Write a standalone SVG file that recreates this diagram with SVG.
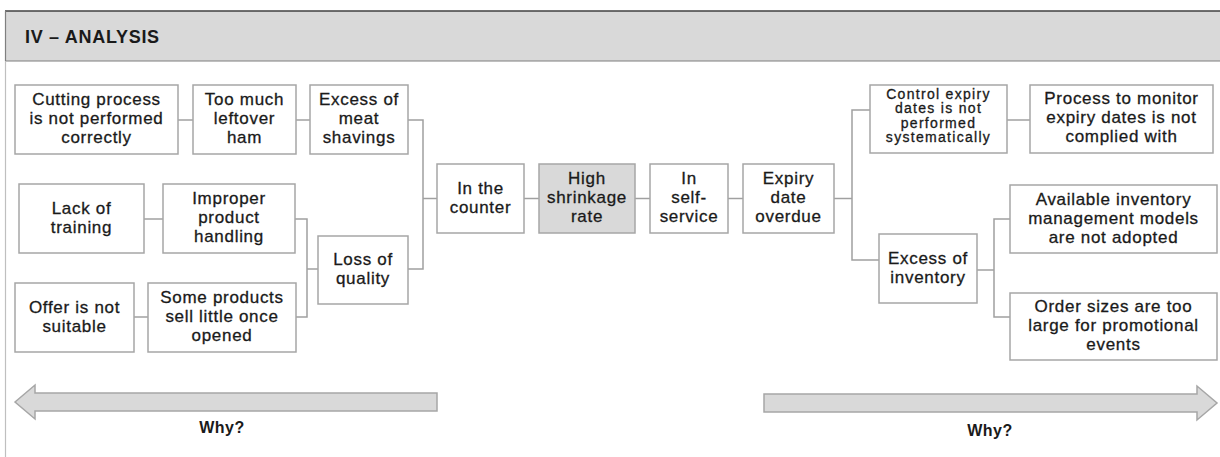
<svg xmlns="http://www.w3.org/2000/svg" width="1220" height="457" viewBox="0 0 1220 457">
<style>
.box{fill:#ffffff;stroke:#a6a6a6;stroke-width:1.5}
.hi{fill:#d9d9d9;stroke:#a6a6a6;stroke-width:1.5}
.t{font-family:"Liberation Sans",Arial,sans-serif;font-size:17px;letter-spacing:0.7px;fill:#1a1a1a;stroke:#1a1a1a;stroke-width:0.3px;text-anchor:middle}
.s{font-size:14px;letter-spacing:1.3px}
.c{fill:none;stroke:#a0a0a0;stroke-width:1.5}
.arr{fill:#d9d9d9;stroke:#a6a6a6;stroke-width:1.5}
.why{font-family:"Liberation Sans",Arial,sans-serif;font-size:16px;font-weight:bold;letter-spacing:0.5px;fill:#1a1a1a;text-anchor:middle}
</style>
<rect x="0" y="0" width="1220" height="457" fill="#ffffff"/>
<g id="header">
<rect x="5" y="11" width="1216" height="50" fill="#d9d9d9" stroke="none"/>
<line x1="5" y1="11" x2="1220" y2="11" stroke="#404040" stroke-width="1.5"/>
<line x1="5" y1="61" x2="1220" y2="61" stroke="#7f7f7f" stroke-width="1.2"/>
<line x1="5.5" y1="11" x2="5.5" y2="61" stroke="#7f7f7f" stroke-width="1.2"/>
<line x1="5.5" y1="61" x2="5.5" y2="457" stroke="#bfbfbf" stroke-width="1.2"/>
<text x="25" y="43" font-family="Liberation Sans,Arial,sans-serif" font-size="18" font-weight="bold" letter-spacing="0.7" fill="#1a1a1a">IV – ANALYSIS</text>
</g>
<g id="connectors">
<polyline class="c" points="178,120 193,120"/>
<polyline class="c" points="296,120 310,120"/>
<polyline class="c" points="408,120 423,120 423,269 408,269"/>
<polyline class="c" points="423,198.5 437,198.5"/>
<polyline class="c" points="144,219 163,219"/>
<polyline class="c" points="295,219 307,219 307,317 296,317"/>
<polyline class="c" points="307,269 318,269"/>
<polyline class="c" points="134,317 148,317"/>
<polyline class="c" points="524,198.5 539,198.5"/>
<polyline class="c" points="635,198.5 650,198.5"/>
<polyline class="c" points="728,198.5 743,198.5"/>
<polyline class="c" points="834,198.5 852,198.5"/>
<polyline class="c" points="870,110 852,110 852,260 879,260"/>
<polyline class="c" points="1007,120 1030,120"/>
<polyline class="c" points="977,270 994,270"/>
<polyline class="c" points="1010,219 994,219 994,317 1010,317"/>
</g>
<g id="n-cutting"><rect class="box" x="15" y="85" width="163" height="69"/>
<text class="t" x="96.5" y="105">Cutting process</text><text class="t" x="96.5" y="124">is not performed</text><text class="t" x="96.5" y="143">correctly</text></g>
<g id="n-toomuch"><rect class="box" x="193" y="85" width="103" height="69"/>
<text class="t" x="244.5" y="105">Too much</text><text class="t" x="244.5" y="124">leftover</text><text class="t" x="244.5" y="143">ham</text></g>
<g id="n-shavings"><rect class="box" x="310" y="85" width="98" height="69"/>
<text class="t" x="359" y="105">Excess of</text><text class="t" x="359" y="124">meat</text><text class="t" x="359" y="143">shavings</text></g>
<g id="n-lack"><rect class="box" x="19" y="184" width="125" height="69"/>
<text class="t" x="81.5" y="213.5">Lack of</text><text class="t" x="81.5" y="232.5">training</text></g>
<g id="n-improper"><rect class="box" x="163" y="184" width="132" height="69"/>
<text class="t" x="229" y="204">Improper</text><text class="t" x="229" y="223">product</text><text class="t" x="229" y="242">handling</text></g>
<g id="n-loss"><rect class="box" x="318" y="236" width="90" height="68"/>
<text class="t" x="363" y="265">Loss of</text><text class="t" x="363" y="284">quality</text></g>
<g id="n-offer"><rect class="box" x="15" y="283" width="119" height="69"/>
<text class="t" x="74.5" y="313">Offer is not</text><text class="t" x="74.5" y="332">suitable</text></g>
<g id="n-some"><rect class="box" x="148" y="283" width="148" height="69"/>
<text class="t" x="222" y="303">Some products</text><text class="t" x="222" y="322">sell little once</text><text class="t" x="222" y="341">opened</text></g>
<g id="n-counter"><rect class="box" x="437" y="164" width="87" height="69"/>
<text class="t" x="480.5" y="194">In the</text><text class="t" x="480.5" y="213">counter</text></g>
<g id="n-high"><rect class="hi" x="539" y="164" width="96" height="69"/>
<text class="t" x="587" y="184">High</text><text class="t" x="587" y="203">shrinkage</text><text class="t" x="587" y="222">rate</text></g>
<g id="n-self"><rect class="box" x="650" y="164" width="78" height="69"/>
<text class="t" x="689" y="184">In</text><text class="t" x="689" y="203">self-</text><text class="t" x="689" y="222">service</text></g>
<g id="n-expiry"><rect class="box" x="743" y="164" width="91" height="69"/>
<text class="t" x="788.5" y="184">Expiry</text><text class="t" x="788.5" y="203">date</text><text class="t" x="788.5" y="222">overdue</text></g>
<g id="n-control"><rect class="box" x="870" y="85" width="137" height="68"/>
<text class="t s" x="938.5" y="98.5">Control expiry</text><text class="t s" x="938.5" y="113">dates is not</text><text class="t s" x="938.5" y="127.5">performed</text><text class="t s" x="938.5" y="142">systematically</text></g>
<g id="n-process"><rect class="box" x="1030" y="85" width="183" height="68"/>
<text class="t" x="1121.5" y="104">Process to monitor</text><text class="t" x="1121.5" y="123">expiry dates is not</text><text class="t" x="1121.5" y="142">complied with</text></g>
<g id="n-available"><rect class="box" x="1010" y="185" width="207" height="68"/>
<text class="t" x="1113.5" y="205">Available inventory</text><text class="t" x="1113.5" y="224">management models</text><text class="t" x="1113.5" y="243">are not adopted</text></g>
<g id="n-excessinv"><rect class="box" x="879" y="234" width="98" height="69"/>
<text class="t" x="928" y="264">Excess of</text><text class="t" x="928" y="283">inventory</text></g>
<g id="n-order"><rect class="box" x="1010" y="293" width="207" height="67"/>
<text class="t" x="1113.5" y="312">Order sizes are too</text><text class="t" x="1113.5" y="331">large for promotional</text><text class="t" x="1113.5" y="350">events</text></g>
<g id="why-left">
<polygon class="arr" points="15,402 35,385 35,393 437,393 437,411 35,411 35,419"/>
<text class="why" x="222" y="433">Why?</text>
</g>
<g id="why-right">
<polygon class="arr" points="764,394 1197,394 1197,386 1217,403 1197,420 1197,412 764,412"/>
<text class="why" x="990" y="436">Why?</text>
</g>
</svg>
